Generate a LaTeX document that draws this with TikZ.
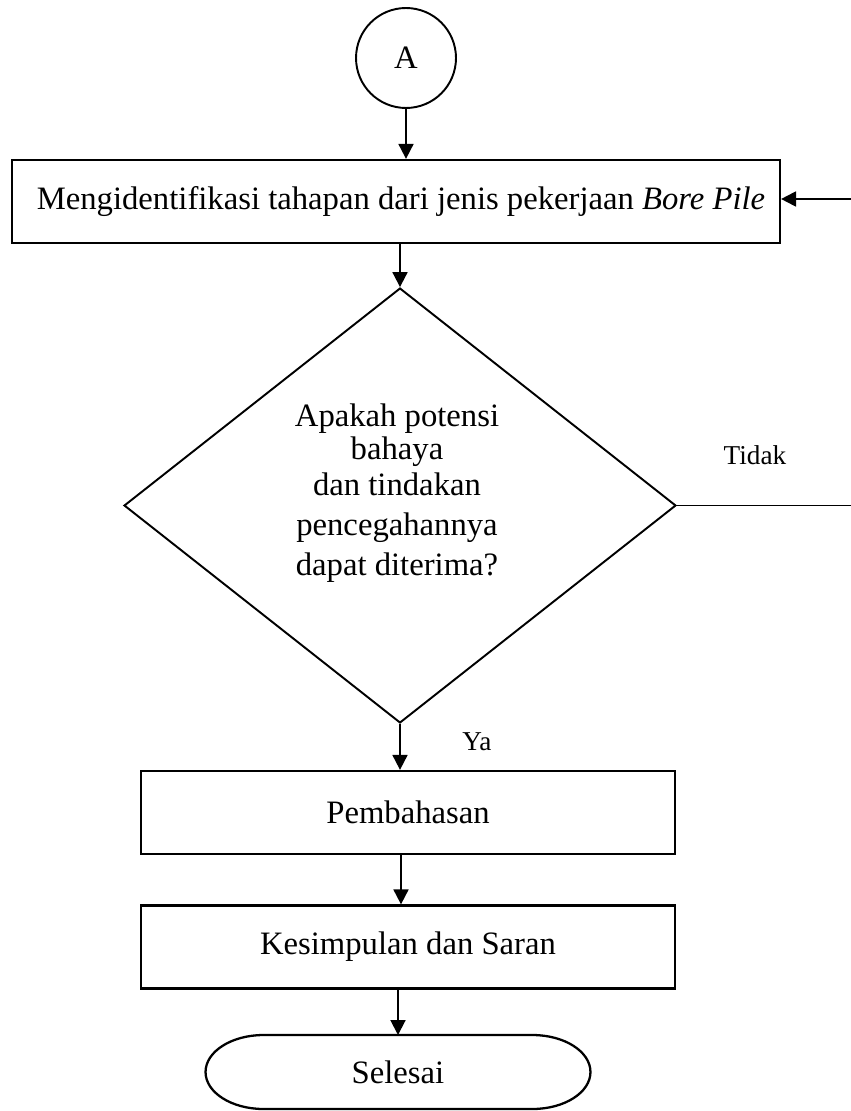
\documentclass[tikz,border=0pt]{standalone}
\usepackage{fontspec}
\setmainfont{Liberation Serif}
\usetikzlibrary{shapes.geometric,arrows.meta}

\begin{document}
\begin{tikzpicture}[x=0.02cm,y=-0.02cm,line width=1.1pt,
    box/.style={draw, line width=1.3pt, minimum height=1.66cm, inner sep=0pt, font=\fontsize{18.6}{22}\selectfont},
    arr/.style={-{Triangle[length=8.5pt,width=8.5pt]}},
    lbl/.style={inner sep=0pt, font=\fontsize{15.5}{18}\selectfont}]
    \useasboundingbox (0,0) rectangle (850,1111);
    % Connector A
    \node[draw, circle, minimum size=2cm, inner sep=0pt, font=\fontsize{18.6}{22}\selectfont] (A) at (406,58) {A};
    % Steps
    \node[box, minimum width=15.36cm] (identify) at (396,201.5) {\hspace{0.2cm}Mengidentifikasi tahapan dari jenis pekerjaan \textit{Bore Pile}};
    \node[draw, diamond, line width=1.1pt, minimum width=11.04cm, minimum height=8.7cm, inner sep=0pt] (check) at (400,505.5) {};
    \node[align=center, inner sep=0pt, font=\fontsize{18.6}{22.7}\selectfont] (question) at (397,493) {Apakah potensi\\[-4pt]bahaya\\[-2pt]dan tindakan\\pencegahannya\\dapat diterima?};
    \node[box, minimum width=10.68cm] (discuss) at (408,812.5) {Pembahasan};
    \node[box, minimum width=10.68cm] (conclude) at (408,947) {Kesimpulan dan Saran};
    \node[minimum width=7.7cm, minimum height=1.48cm, inner sep=0pt, outer sep=0pt, font=\fontsize{18.6}{22}\selectfont] (finish) at (398,1072) {Selesai};
    \draw[line width=1.3pt] ([xshift=1.16cm]finish.north west) -- ([xshift=-1.16cm]finish.north east)
        arc[start angle=90, end angle=-90, x radius=1.16cm, y radius=0.74cm]
        -- ([xshift=1.16cm]finish.south west)
        arc[start angle=270, end angle=90, x radius=1.16cm, y radius=0.74cm] -- cycle;
    % Labels
    \node[lbl] (no) at (755,455) {Tidak};
    \node[lbl] (yes) at (477,742) {Ya};
    % Arrows
    \coordinate (loopdown) at (862,505.5);
    \coordinate (loopup) at (862,199);
    \draw[arr] (A.south) -- (A.south |- identify.north);
    \draw[arr] (identify.south -| check.north) -- (check.north);
    \draw[arr] (check.south) -- (check.south |- discuss.north);
    \draw[arr] (discuss.south -| 401,0) -- (conclude.north -| 401,0);
    \draw[arr] (conclude.south -| finish.north) -- (finish.north);
    \draw[arr] (check.east) -- (loopdown) -- (loopup) -- (loopup -| identify.east);
\end{tikzpicture}
\end{document}
